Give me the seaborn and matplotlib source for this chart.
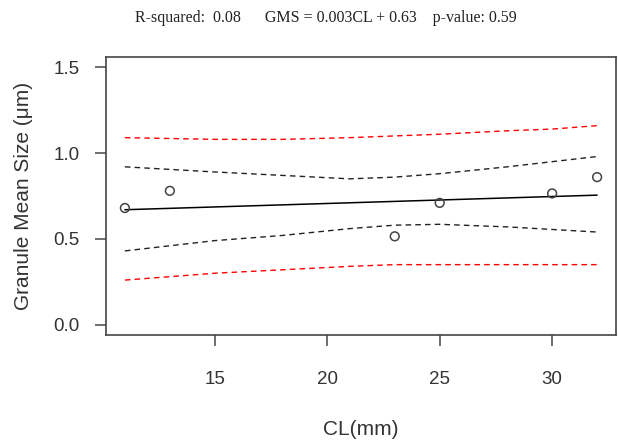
import numpy as np
import pandas as pd
import matplotlib
matplotlib.use("Agg")
import matplotlib.pyplot as plt
import seaborn as sns

# observed points
cl = [11, 13, 23, 25, 30, 32]
gms = [0.68, 0.78, 0.515, 0.71, 0.765, 0.86]

# fitted line
fit_x = [11, 32]
fit_y = [0.67, 0.755]

# confidence band (black dashed)
conf_x = [11, 15, 18, 21, 23, 25, 28, 30, 32]
conf_hi = [0.92, 0.89, 0.87, 0.85, 0.86, 0.88, 0.92, 0.95, 0.98]
conf_lo = [0.43, 0.49, 0.52, 0.56, 0.58, 0.585, 0.57, 0.555, 0.54]

# prediction band (red dashed)
pred_x = [11, 15, 18, 21, 23, 25, 28, 30, 32]
pred_hi = [1.09, 1.08, 1.08, 1.09, 1.10, 1.11, 1.13, 1.14, 1.16]
pred_lo = [0.26, 0.30, 0.32, 0.34, 0.35, 0.35, 0.35, 0.35, 0.35]

title_txt = "R-squared:  0.08      GMS = 0.003CL + 0.63    p-value: 0.59"

sns.set_style("ticks")
plt.rcParams['font.family'] = ['Liberation Sans', 'DejaVu Sans']

fig = plt.figure(figsize=(6.18, 4.43), dpi=100)
ax = fig.add_axes([106/618, 1 - 335/443, 510/618, 278/443])

df_pts = pd.DataFrame({"CL": cl, "GMS": gms})
sns.lineplot(x=fit_x, y=fit_y, ax=ax, color="black", lw=1.1)
sns.lineplot(x=conf_x, y=conf_hi, ax=ax, color="#222222", lw=1.0, linestyle=(0, (4, 3)))
sns.lineplot(x=conf_x, y=conf_lo, ax=ax, color="#222222", lw=1.0, linestyle=(0, (4, 3)))
sns.lineplot(x=pred_x, y=pred_hi, ax=ax, color="red", lw=1.0, linestyle=(0, (4, 3)))
sns.lineplot(x=pred_x, y=pred_lo, ax=ax, color="red", lw=1.0, linestyle=(0, (4, 3)))
sns.scatterplot(data=df_pts, x="CL", y="GMS", ax=ax, marker="o", s=40,
                facecolor="none", edgecolor="#444444", linewidth=1.1, zorder=5)

ax.set_xlim(10.16, 32.84)
ax.set_ylim(-0.06, 1.56)
ax.set_xticks([15, 20, 25, 30])
ax.set_yticks([0.0, 0.5, 1.0, 1.5])
ax.set_yticklabels(["0.0", "0.5", "1.0", "1.5"])
ax.tick_params(axis="both", labelsize=13.5, color="#555555", labelcolor="#333333",
               length=8, width=1.2)
ax.tick_params(axis="x", pad=18)
ax.tick_params(axis="y", pad=11)
for s in ax.spines.values():
    s.set_color("#444444")
    s.set_linewidth(1.2)

ax.set_xlabel("CL(mm)", fontsize=15, color="#333333", labelpad=23)
ax.set_ylabel("Granule Mean Size (\u03bcm)", fontsize=15, color="#333333", labelpad=15)

fig.text(326/618, 1 - 18/443, title_txt, ha="center", va="center", fontsize=11.5,
         family=["Liberation Serif", "DejaVu Serif"], color="#222222")

fig.savefig("out.png", dpi=100)
